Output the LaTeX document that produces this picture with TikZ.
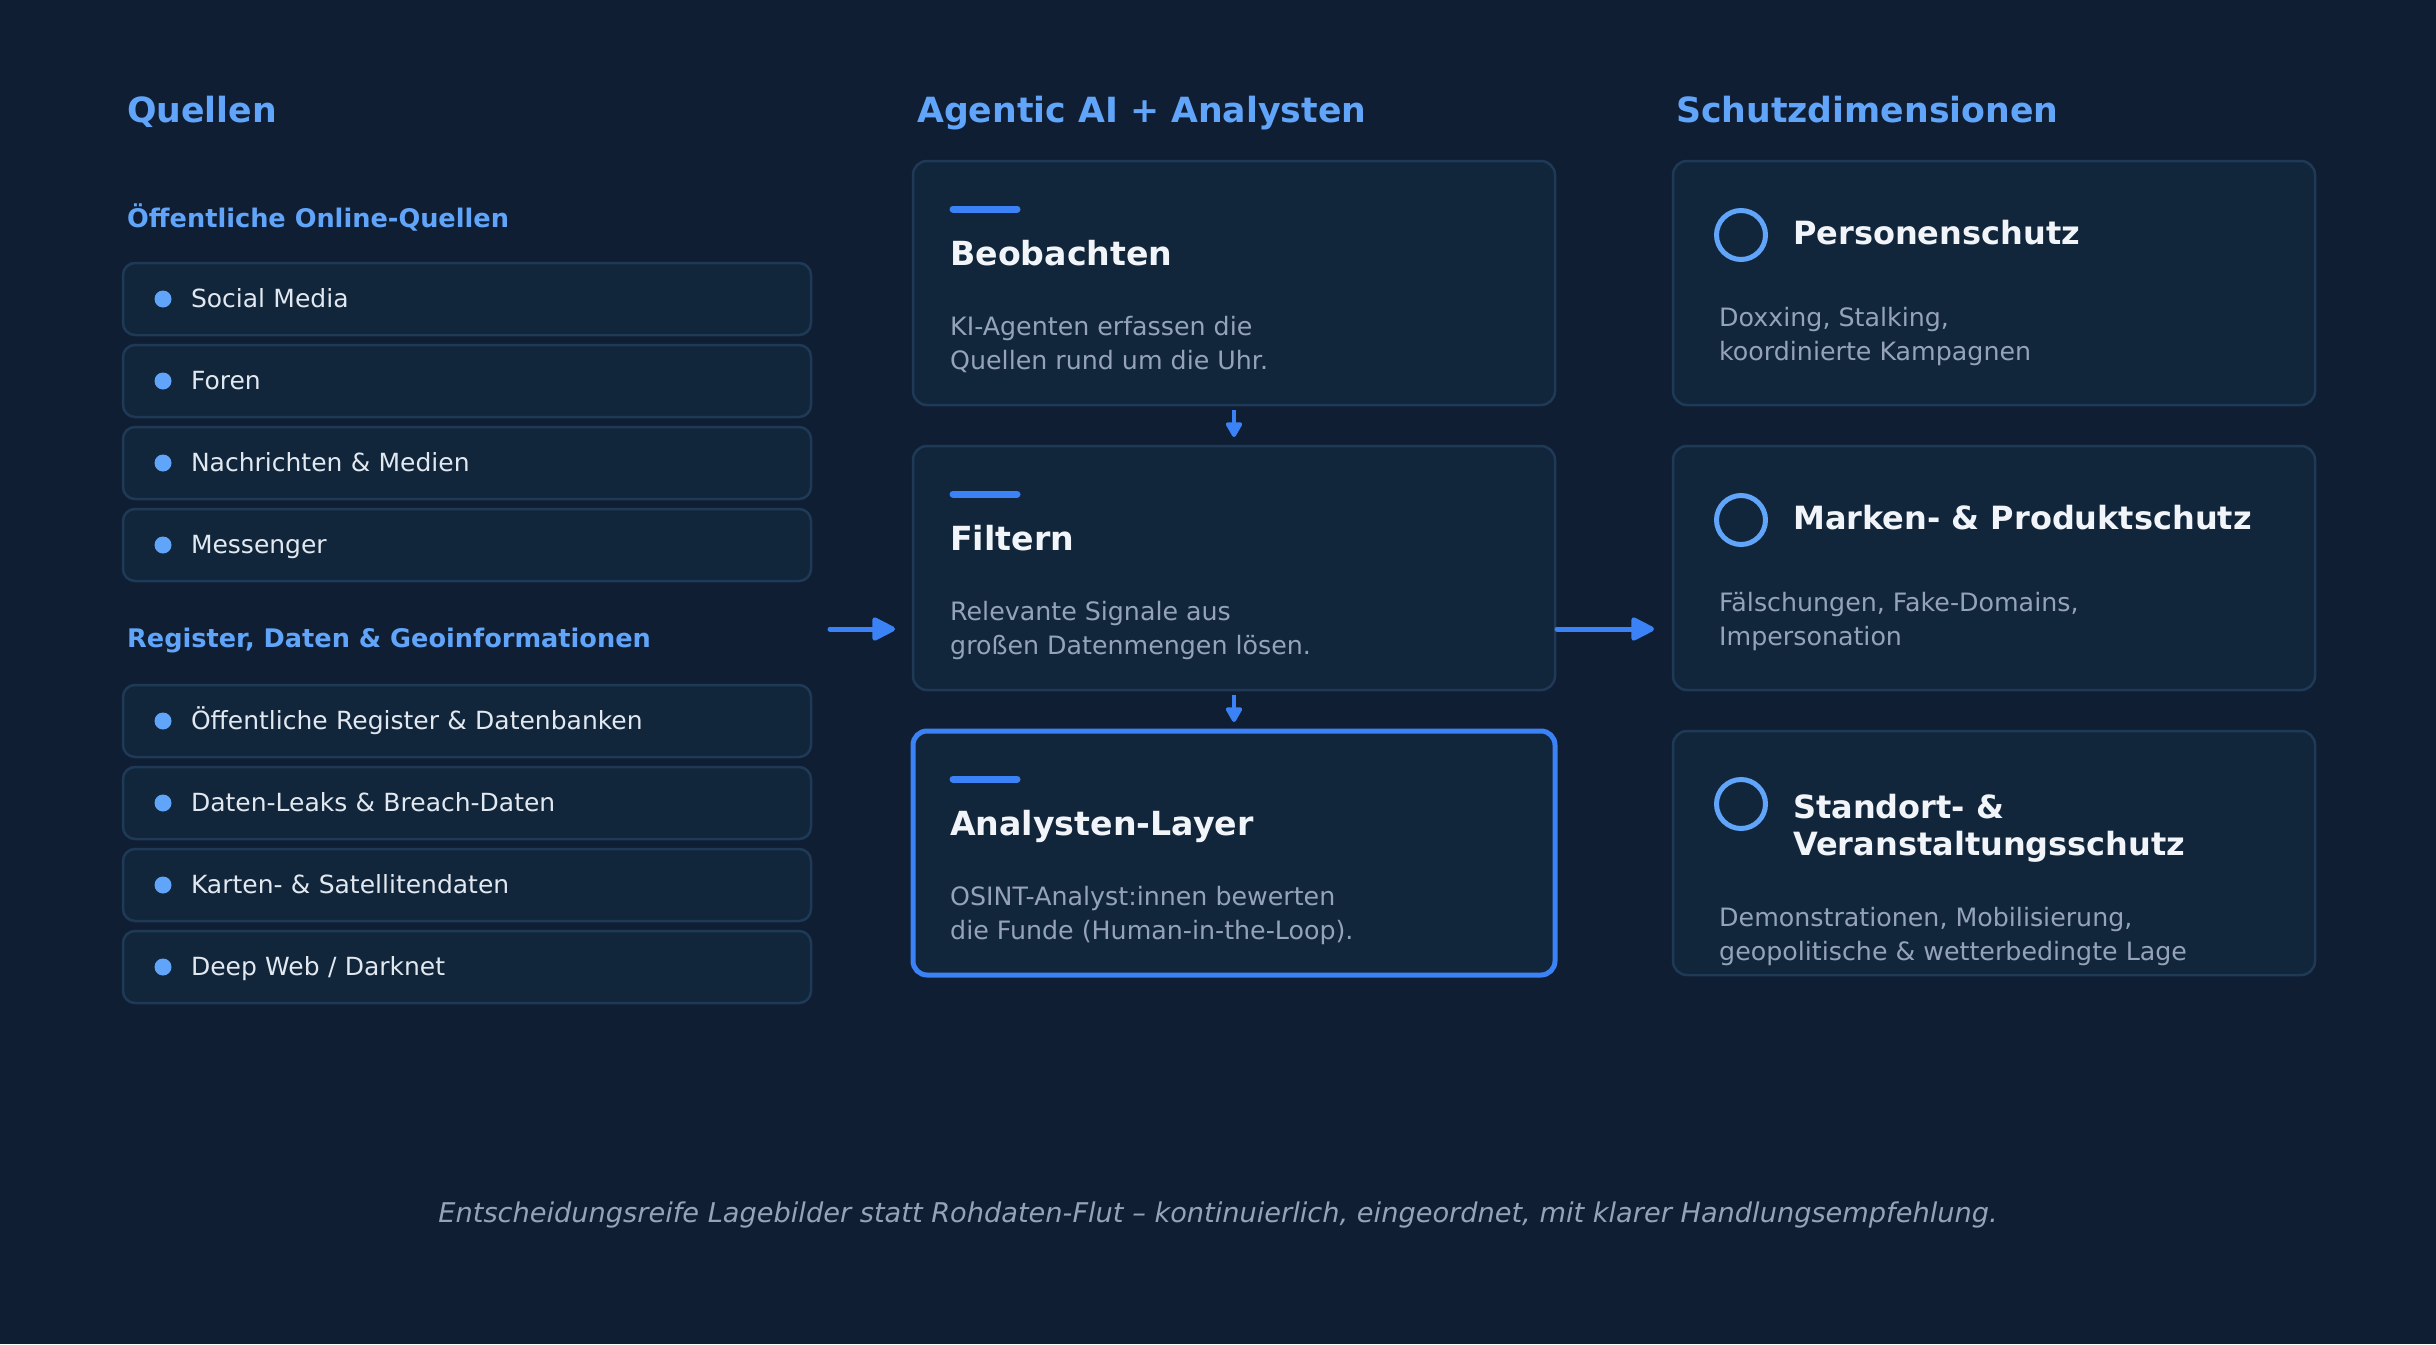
\documentclass[tikz,border=0pt]{standalone}
\usepackage{fontspec}
\setmainfont{DejaVu Sans}
\usepackage{xcolor}
\usepackage{tikz}
\usetikzlibrary{arrows.meta,positioning,calc}

\definecolor{pagebg}{HTML}{0F1E33}
\definecolor{cardfill}{HTML}{12263B}
\definecolor{cardline}{HTML}{1F3A56}
\definecolor{accent}{HTML}{3B82F6}
\definecolor{headblue}{HTML}{60A5FA}
\definecolor{itemtext}{HTML}{E2E8F0}
\definecolor{titletext}{HTML}{F1F5F9}
\definecolor{mutetext}{HTML}{94A3B8}

\begin{document}
\begin{tikzpicture}[
  x=1pt, y=-1pt,
  colhead/.style={anchor=base west, inner sep=0pt, text=headblue, font=\bfseries\fontsize{34.7}{40}\selectfont},
  subhead/.style={anchor=base west, inner sep=0pt, text=headblue, font=\bfseries\fontsize{25.6}{30}\selectfont},
  srcitem/.style={draw=cardline, line width=2.5pt, fill=cardfill, rounded corners=12pt, outer sep=0pt,
    minimum width=688pt, minimum height=72pt, text width=552pt, inner xsep=68pt, inner ysep=0pt,
    text height=19pt, text depth=3pt, align=left, text=itemtext, font=\fontsize{25}{30}\selectfont,
    path picture={\fill[headblue] ([xshift=40pt]path picture bounding box.west) circle (8.5pt);}},
  card/.style={draw=cardline, line width=2.5pt, fill=cardfill, rounded corners=14pt, outer sep=0pt,
    minimum width=642pt, minimum height=244pt, inner sep=0pt},
  keycard/.style={card, draw=accent, line width=5pt},
  cardtitle/.style={anchor=base west, inner sep=0pt, align=left, text=titletext, font=\bfseries\fontsize{32}{37}\selectfont},
  steptitle/.style={cardtitle, font=\bfseries\fontsize{33.2}{38}\selectfont},
  cardtext/.style={anchor=base west, inner sep=0pt, align=left, text=mutetext, font=\fontsize{25.3}{34}\selectfont},
  accentbar/.style={accent, line width=7pt, line cap=round},
  ring/.style={circle, draw=headblue, line width=5pt, minimum size=49pt, inner sep=0pt},
  flow/.style={accent, line width=5pt, line cap=round, -{Triangle[length=26pt,width=25pt,round]}},
  downflow/.style={accent, line width=4pt, -{Triangle[length=17pt,width=18pt,round]}},
  node distance=10pt
]
\fill[pagebg] (0,0) rectangle (2436,1344);

\node[colhead] (src-head) at (127,122) {Quellen};
\node[colhead] (ai-head) at (917,122) {Agentic AI + Analysten};
\node[colhead] (prot-head) at (1676,122) {Schutzdimensionen};

\node[subhead] (online-head) at (127,227) {Öffentliche Online-Quellen};
\node[srcitem, anchor=north west] (social) at (123,263) {Social Media};
\node[srcitem, below=of social] (forums) {Foren};
\node[srcitem, below=of forums] (news) {Nachrichten \& Medien};
\node[srcitem, below=of news] (messenger) {Messenger};

\node[subhead] (reg-head) at (127,647) {Register, Daten \& Geoinformationen};
\node[srcitem, anchor=north west] (registers) at (123,685) {Öffentliche Register \& Datenbanken};
\node[srcitem, below=of registers] (leaks) {Daten-Leaks \& Breach-Daten};
\node[srcitem, below=of leaks] (maps) {Karten- \& Satellitendaten};
\node[srcitem, below=of maps] (darknet) {Deep Web / Darknet};

\node[card, anchor=north west] (observe) at (913,161) {};
\node[card, below=41pt of observe] (filter) {};
\node[keycard, below=41pt of filter] (analyst) {};
\draw[accentbar] ([xshift=40pt,yshift=-48pt]observe.north west) -- ++(64,0);
\node[steptitle] (observe-t) at ([xshift=37pt,yshift=-104pt]observe.north west) {Beobachten};
\node[cardtext] (observe-d) at ([xshift=37pt,yshift=-208pt]observe.north west) {KI-Agenten erfassen die\\Quellen rund um die Uhr.};
\draw[accentbar] ([xshift=40pt,yshift=-48pt]filter.north west) -- ++(64,0);
\node[steptitle] (filter-t) at ([xshift=37pt,yshift=-104pt]filter.north west) {Filtern};
\node[cardtext] (filter-d) at ([xshift=37pt,yshift=-208pt]filter.north west) {Relevante Signale aus\\großen Datenmengen lösen.};
\draw[accentbar] ([xshift=40pt,yshift=-48pt]analyst.north west) -- ++(64,0);
\node[steptitle] (analyst-t) at ([xshift=37pt,yshift=-104pt]analyst.north west) {Analysten-Layer};
\node[cardtext] (analyst-d) at ([xshift=37pt,yshift=-208pt]analyst.north west) {OSINT-Analyst:innen bewerten\\die Funde (Human-in-the-Loop).};

\node[card, right=118pt of observe] (person) {};
\node[card, right=118pt of filter] (brand) {};
\node[card, right=118pt of analyst] (venue) {};
\node[ring] (person-r) at ([xshift=68pt,yshift=-74pt]person.north west) {};
\node[cardtitle] (person-t) at ([xshift=120pt,yshift=-83pt]person.north west) {Personenschutz};
\node[cardtext] (person-d) at ([xshift=46pt,yshift=-199pt]person.north west) {Doxxing, Stalking,\\koordinierte Kampagnen};
\node[ring] (brand-r) at ([xshift=68pt,yshift=-74pt]brand.north west) {};
\node[cardtitle] (brand-t) at ([xshift=120pt,yshift=-83pt]brand.north west) {Marken- \& Produktschutz};
\node[cardtext] (brand-d) at ([xshift=46pt,yshift=-199pt]brand.north west) {Fälschungen, Fake-Domains,\\Impersonation};
\node[ring] (venue-r) at ([xshift=68pt,yshift=-73pt]venue.north west) {};
\node[cardtitle] (venue-t) at ([xshift=120pt,yshift=-124pt]venue.north west) {Standort- \&\\Veranstaltungsschutz};
\node[cardtext] (venue-d) at ([xshift=46pt,yshift=-229pt]venue.north west) {Demonstrationen, Mobilisierung,\\geopolitische \& wetterbedingte Lage};

\coordinate (src-out) at (830,629);
\draw[flow, shorten >=18pt] (src-out) -- (src-out -| filter.west);
\draw[flow, shorten <=2pt, shorten >=19pt] (src-out -| filter.east) -- (src-out -| brand.west);
\draw[downflow, shorten <=5pt, shorten >=9pt] (observe.south) -- (filter.north);
\draw[downflow, shorten <=5pt, shorten >=9pt] (filter.south) -- (analyst.north);

\node[anchor=base, inner sep=0pt, text=mutetext, font=\itshape\fontsize{27.2}{32}\selectfont] (summary) at (1218,1222) {Entscheidungsreife Lagebilder statt Rohdaten-Flut – kontinuierlich, eingeordnet, mit klarer Handlungsempfehlung.};
\end{tikzpicture}
\end{document}
